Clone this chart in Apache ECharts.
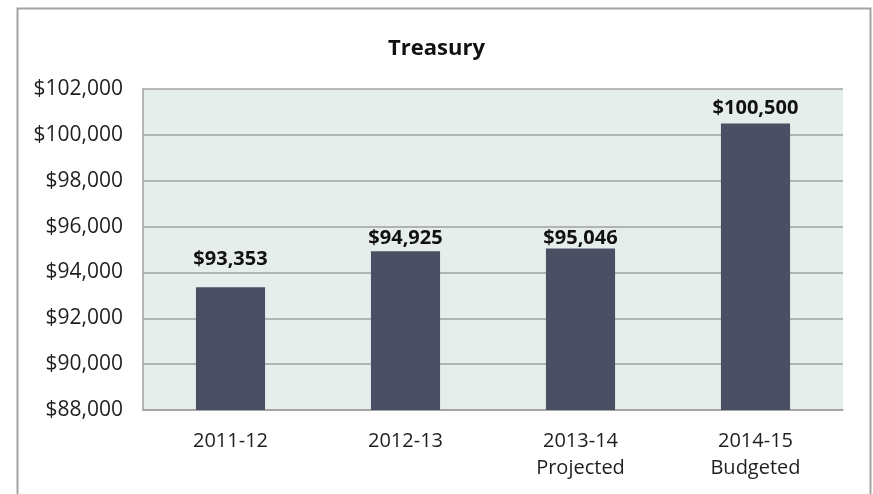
<!DOCTYPE html>
<html>
<head>
<meta charset="utf-8">
<script src="https://cdn.jsdelivr.net/npm/echarts@6/dist/echarts.min.js"></script>
<style>
html,body{margin:0;padding:0;background:#fff;}
#c{width:873px;height:494px;}
</style>
</head>
<body>
<div id="c"></div>
<script>
const titleText = 'Treasury';
const categories = ['2011-12', '2012-13', '2013-14\nProjected', '2014-15\nBudgeted'];
const values = [93353, 94925, 95046, 100500];
const yMin = 88000, yMax = 102000, yStep = 2000;

const fmt = v => '$' + v.toLocaleString('en-US');
const labelGap = [18, 3, 0, 5];

const chart = echarts.init(document.getElementById('c'), null, {renderer: 'canvas'});
chart.setOption({
  animation: false,
  backgroundColor: '#ffffff',
  graphic: [{
    type: 'rect', left: 15, top: 6, shape: {width: 853, height: 520},
    style: {fill: 'none', stroke: '#a3a3a3', lineWidth: 2}, silent: true, z: -1
  }],
  title: {
    text: titleText, left: 'center', top: 33,
    textStyle: {fontFamily: 'Open Sans', fontWeight: 'bold', fontSize: 22, color: '#111'}
  },
  grid: {
    left: 143, right: 30, top: 89, bottom: 84, show: true,
    backgroundColor: '#e6eeec', borderWidth: 0, containLabel: false
  },
  xAxis: {
    type: 'category', data: categories,
    axisLine: {show: true, lineStyle: {color: '#a0a0a0', width: 1.5}},
    axisTick: {show: false},
    axisLabel: {fontFamily: 'Open Sans', fontSize: 20, color: '#1e1e1e', margin: 18, lineHeight: 27}
  },
  yAxis: {
    type: 'value', min: yMin, max: yMax, interval: yStep,
    axisLine: {show: true, lineStyle: {color: '#a0a0a0', width: 1.5}},
    axisTick: {show: false},
    splitLine: {show: true, lineStyle: {color: '#a0a0a0', width: 1.5}},
    axisLabel: {fontFamily: 'Open Sans', fontSize: 21, color: '#1e1e1e', margin: 20, formatter: fmt}
  },
  series: [{
    type: 'bar', barWidth: '39.5%',
    data: values.map((v, i) => ({value: v, label: {distance: labelGap[i]}})),
    itemStyle: {color: '#4b4f64'},
    label: {
      show: true, position: 'top',
      fontFamily: 'Open Sans', fontWeight: 'bold', fontSize: 20, color: '#111',
      formatter: p => fmt(p.value)
    }
  }]
});
</script>
</body>
</html>
